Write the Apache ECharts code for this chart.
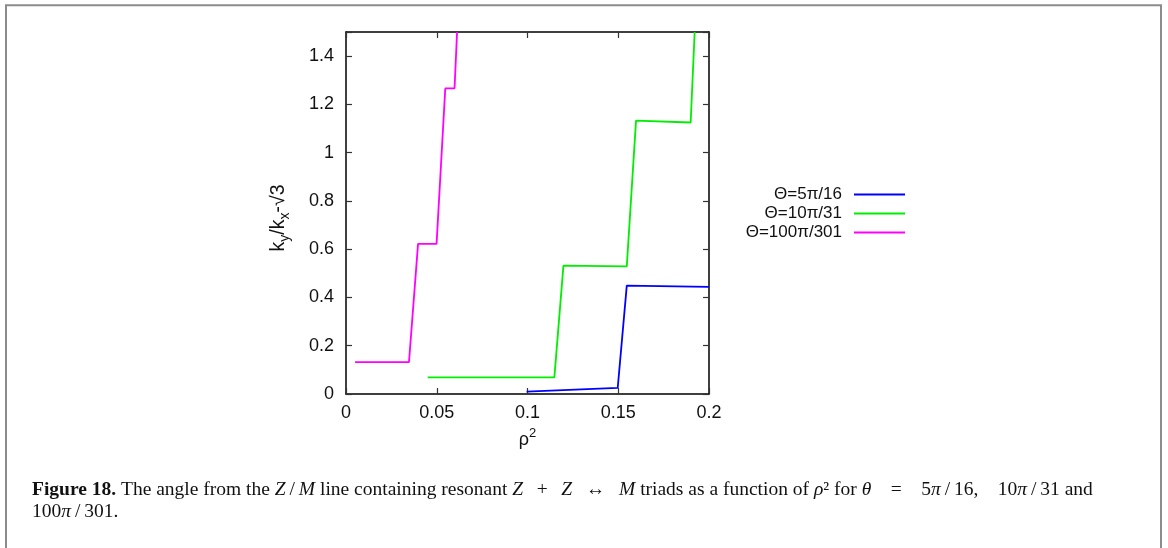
<!DOCTYPE html>
<html>
<head>
<meta charset="utf-8">
<script src="https://cdn.jsdelivr.net/npm/echarts@6/dist/echarts.min.js"></script>
<style>
html,body{margin:0;padding:0;background:#fff;}
#chart{width:1168px;height:548px;}
</style>
</head>
<body>
<div id="chart"></div>
<script>
// ---- data ----
const seriesNames = ['Θ=5π/16', 'Θ=10π/31', 'Θ=100π/301'];
const blueX = [0.0995, 0.1497, 0.1547, 0.2];
const blueY = [0.010, 0.025, 0.449, 0.444];
const greenX = [0.045, 0.1148, 0.1198, 0.1547, 0.1598, 0.1899, 0.1921];
const greenY = [0.069, 0.069, 0.532, 0.529, 1.133, 1.125, 1.5];
const magentaX = [0.005, 0.0347, 0.0397, 0.0499, 0.0547, 0.0598, 0.0612];
const magentaY = [0.132, 0.132, 0.622, 0.622, 1.266, 1.266, 1.5];
const xTicks = [0, 0.05, 0.1, 0.15, 0.2];
const yTicks = [0, 0.2, 0.4, 0.6, 0.8, 1, 1.2, 1.4];

function pairs(xs, ys) { return xs.map((x, i) => [x, ys[i]]); }

const chart = echarts.init(document.getElementById('chart'), null, {renderer: 'canvas'});
const sansFont = 'Liberation Sans';
const serifFont = 'Liberation Serif';
const colors = ['#0000ff', '#00ee00', '#ff00ff'];

function axisCommon(extra) {
  return Object.assign({
    type: 'value',
    axisLine: {show: true, onZero: false, lineStyle: {color: '#000', width: 1.5}},
    axisTick: {show: true, inside: true, length: 6, lineStyle: {color: '#333', width: 1.2}},
    splitLine: {show: false}
  }, extra);
}

const legendRows = [186, 205, 224];

const EM = '\u2003', EN = '\u2002', TH = '\u2009';
const MID = EN + TH;
const captionText =
  '{b|Figure 18.} The angle from the {i|Z}' + TH + '/' + TH + '{i|M} line containing resonant {i|Z}' +
  MID + '+' + MID + '{i|Z}' + MID + '↔' + MID + '{i|M} triads as a function of {i|ρ}² for {i|θ}' +
  EM + '=' + EM + '5{i|π}' + TH + '/' + TH + '16,' + EM + '10{i|π}' + TH + '/' + TH + '31 and\n' +
  '100{i|π}' + TH + '/' + TH + '301.';

const option = {
  backgroundColor: '#fff',
  animation: false,
  grid: {left: 346, right: 459, top: 32, bottom: 154, containLabel: false},
  xAxis: [
    axisCommon({
      min: 0, max: 0.2, interval: 0.05, position: 'bottom',
      axisLabel: {show: true, margin: 10, fontFamily: sansFont, fontSize: 18, color: '#111',
        formatter: v => xTicks.some(t => Math.abs(t - v) < 1e-9) ? String(+v.toFixed(2)) : ''},
      name: '{b|ρ}{s|2}', nameLocation: 'middle', nameGap: 30,
      nameTextStyle: {rich: {
        b: {fontFamily: sansFont, fontSize: 18, color: '#111', lineHeight: 26, verticalAlign: 'middle'},
        s: {fontFamily: sansFont, fontSize: 13, color: '#111', lineHeight: 13, verticalAlign: 'top'}
      }}
    }),
    axisCommon({
      min: 0, max: 0.2, interval: 0.05, position: 'top',
      axisLabel: {show: false}
    })
  ],
  yAxis: [
    axisCommon({
      min: 0, max: 1.5, interval: 0.2, position: 'left',
      axisLabel: {show: true, margin: 12, fontFamily: sansFont, fontSize: 18, color: '#111',
        formatter: v => yTicks.some(t => Math.abs(t - v) < 1e-9) ? String(+v.toFixed(1)) : ''},
      name: '{b|k}{s|y}{b|/k}{s|x}{b|-√3}', nameLocation: 'middle', nameGap: 54, nameRotate: 90,
      nameTextStyle: {padding: [0, 10, 0, 0], rich: {
        b: {fontFamily: sansFont, fontSize: 19.5, color: '#111', lineHeight: 26, verticalAlign: 'middle'},
        s: {fontFamily: sansFont, fontSize: 14, color: '#111', lineHeight: 14, verticalAlign: 'bottom'}
      }}
    }),
    axisCommon({
      min: 0, max: 1.5, interval: 0.2, position: 'right',
      axisLabel: {show: false}
    })
  ],
  legend: seriesNames.map((n, i) => ({
    data: [n], right: 263, top: legendRows[i], orient: 'vertical', align: 'right',
    icon: 'rect', itemWidth: 51, itemHeight: 2, padding: 0, itemGap: 0,
    textStyle: {fontFamily: sansFont, fontSize: 17, color: '#111', padding: [0, 7, 0, 0]},
    selectedMode: false
  })),
  series: [
    {name: seriesNames[0], data: pairs(blueX, blueY), color: colors[0]},
    {name: seriesNames[1], data: pairs(greenX, greenY), color: colors[1]},
    {name: seriesNames[2], data: pairs(magentaX, magentaY), color: colors[2]}
  ].map(s => Object.assign({
    type: 'line', symbol: 'none', showSymbol: false, clip: true,
    lineStyle: {width: 1.8, color: s.color}, itemStyle: {color: s.color},
    xAxisIndex: 0, yAxisIndex: 0
  }, s)),
  graphic: [
    {type: 'rect', shape: {x: 6, y: 5.3, width: 1155, height: 600},
     style: {fill: 'none', stroke: '#8c8c8c', lineWidth: 2}, silent: true},
    {type: 'text', left: 32, top: 479,
     style: {
       text: captionText,
       fontFamily: serifFont, fontSize: 19.5, fill: '#111', lineHeight: 22,
       rich: {
         b: {fontFamily: serifFont, fontSize: 19.5, fontWeight: 'bold', fill: '#111', lineHeight: 22},
         i: {fontFamily: serifFont, fontSize: 19.5, fontStyle: 'italic', fill: '#111', lineHeight: 22}
       }
     }}
  ]
};
chart.setOption(option);
</script>
</body>
</html>
